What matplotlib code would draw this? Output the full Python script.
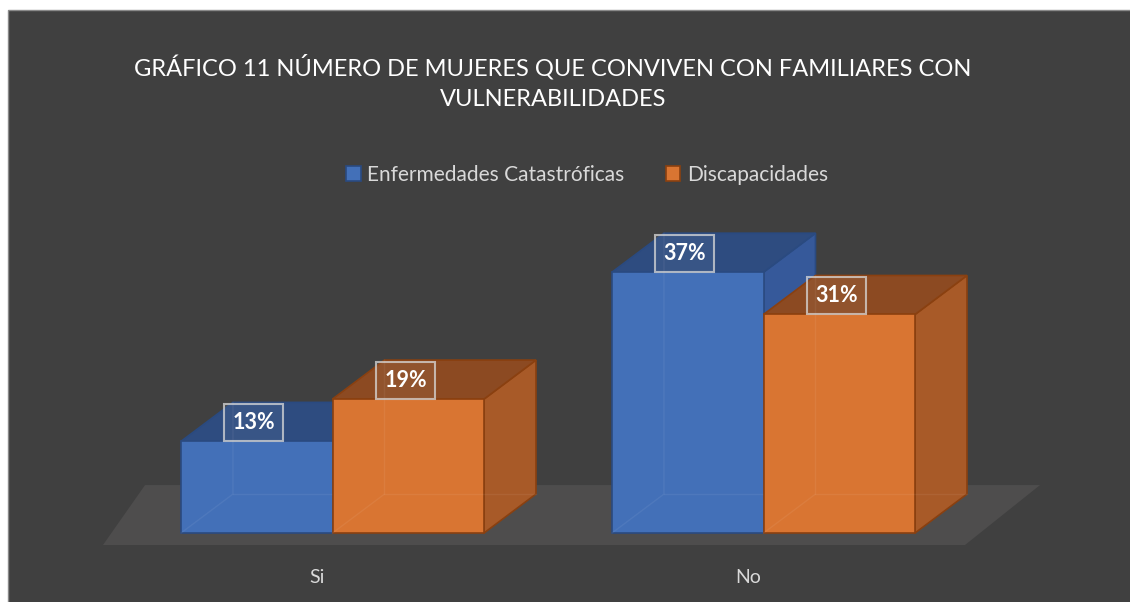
import matplotlib
matplotlib.use('Agg')
import matplotlib.pyplot as plt
from matplotlib.patches import Polygon, Rectangle

plt.rcParams['font.family'] = ['Lato', 'DejaVu Sans']

# data
categories = ['Si', 'No']
series = ['Enfermedades Catastróficas', 'Discapacidades']
enfermedades = [13, 37]
discapacidades = [19, 31]
title = 'GRÁFICO 11 NÚMERO DE MUJERES QUE CONVIVEN CON FAMILIARES CON\nVULNERABILIDADES'

# colours: front, top, side, edge
colors = [
    ('#4370b8', '#2e4c80', '#36599a', '#2a4a80'),
    ('#d97532', '#8c4a22', '#a85a28', '#8a4010'),
]

W, H = 1130, 602
fig = plt.figure(figsize=(W / 100, H / 100), dpi=100, facecolor='white')

# chart area background with thin border
bg = fig.add_axes([0, 0, 1, 1])
bg.set_xlim(0, W)
bg.set_ylim(H, 0)
bg.axis('off')
bg.add_patch(Rectangle((8, 10), W, H, facecolor='#404040', edgecolor='#8a8a8a', lw=1))

# plot axes: x in category units, y in percent
ax = fig.add_axes([103 / W, 1 - 545 / H, (1040 - 103) / W, (545 - 220) / H])
ax.set_xlim(-0.5325, 1.6415)
ax.set_ylim(-1.70, 44.4)
ax.axis('off')

bw = 0.3515          # bar width
ddx, ddy = 0.1206, 5.53   # depth offset

# floor
ax.add_patch(Polygon([(-0.5325, -1.70), (1.4675, -1.70), (1.6415, 6.8), (-0.435, 6.8)],
                     closed=True, facecolor='#4e4d4d', edgecolor='none', zorder=1))

for i, cat in enumerate(categories):
    vals = [enfermedades[i], discapacidades[i]]
    for s in range(2):
        x0 = i - bw + s * bw
        x1 = x0 + bw
        v = vals[s]
        front, top, side, edge = colors[s]
        z = 2 + s
        ax.add_patch(Polygon([(x1, 0), (x1 + ddx, ddy), (x1 + ddx, v + ddy), (x1, v)],
                             closed=True, facecolor=side, edgecolor=edge, lw=1.2, zorder=z))
        ax.add_patch(Polygon([(x0, v), (x1, v), (x1 + ddx, v + ddy), (x0 + ddx, v + ddy)],
                             closed=True, facecolor=top, edgecolor=edge, lw=1.2, zorder=z))
        ax.add_patch(Rectangle((x0, 0), bw, v, facecolor=front, edgecolor=edge,
                               lw=1.2, zorder=z + 0.1))
        # faint hidden edges (translucent look)
        ax.plot([x0, x0 + ddx, x0 + ddx], [0, ddy, v + ddy], color='white', alpha=0.06,
                lw=1, zorder=z + 0.2)
        ax.plot([x0 + ddx, x1 + ddx], [ddy, ddy], color='white', alpha=0.06, lw=1,
                zorder=z + 0.2)
        ax.text(x0 + bw * 0.31 + ddx * 0.5, v + ddy * 0.48, f'{v}%', color='white',
                fontsize=15.5, fontweight='bold', ha='center', va='center', zorder=10,
                bbox=dict(boxstyle='square,pad=0.38', facecolor=(1, 1, 1, 0.05),
                          edgecolor=(0.85, 0.85, 0.85, 0.75), lw=1.5))

# category labels
for i, cat in enumerate(categories):
    ax.text(i - 0.035, -6.3, cat, color='#d9d9d9', fontsize=14, ha='center', va='center')

fig.text(553 / W, 1 - 82 / H, title, color='white', fontsize=17, ha='center', va='center',
         linespacing=1.55)

handles = [Rectangle((0, 0), 1, 1, facecolor=c[0], edgecolor=c[3], lw=1.2) for c in colors]
fig.legend(handles, series, loc='center', bbox_to_anchor=(587 / W, 1 - 175 / H), ncol=2,
           frameon=False, labelcolor='#d9d9d9', fontsize=15, handlelength=0.7,
           handleheight=0.7, handletextpad=0.3, columnspacing=2.0)

fig.savefig('out.png', dpi=100, facecolor=fig.get_facecolor())
